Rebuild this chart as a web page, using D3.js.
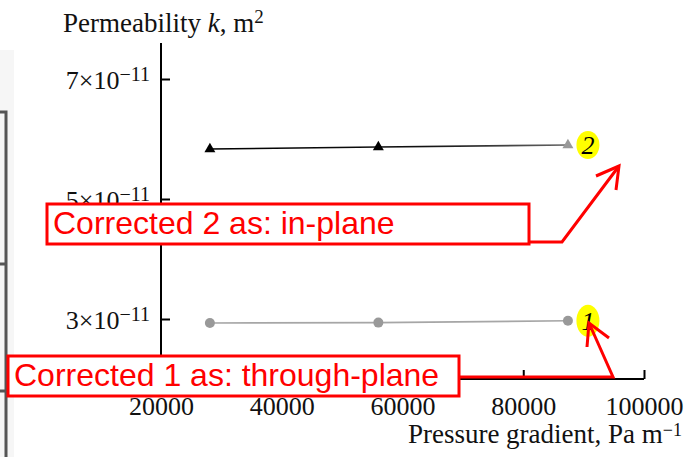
<!DOCTYPE html>
<html>
<head>
<meta charset="utf-8">
<script src="https://cdn.jsdelivr.net/npm/d3@7"></script>
<style>
  html, body { margin: 0; padding: 0; background: #fff; }
  svg { display: block; }
  .serif { font-family: "Liberation Serif", "Times New Roman", serif; }
  .note { font-family: "Liberation Sans", Arial, sans-serif; }
</style>
</head>
<body>
<svg id="chart" width="699" height="457"></svg>
<script>
// Measured permeability vs. applied pressure gradient
const pressureGradient = [28100, 56000, 87400];          // Pa m^-1
const throughPlane = [2.933e-11, 2.94e-11, 2.97e-11];    // curve 1, m^2
const inPlane = [5.833e-11, 5.867e-11, 5.9e-11];         // curve 2, m^2

const xTicks = [20000, 40000, 60000, 80000, 100000];
const yTickMantissas = [3, 5, 7];                        // ×10^-11
const yTickExponent = -11;

const svg = d3.select("#chart");

const x = d3.scaleLinear().domain([20000, 100000]).range([161, 644]);
const y = d3.scaleLinear().domain([2e-11, 7.6e-11]).range([379, 43]);

// faint panel edge on the far left
svg.append("rect").attr("x", 0).attr("y", 50).attr("width", 14).attr("height", 407).attr("fill", "#f6f6f6");
svg.append("path").attr("d", "M0,112H6V457").attr("fill", "none").attr("stroke", "#555").attr("stroke-width", 3);
svg.append("path").attr("d", "M0,264H5M0,391H5").attr("stroke", "#555").attr("stroke-width", 3);

// axes
const xAxis = d3.axisBottom(x).tickValues(xTicks).tickSize(-9).tickFormat(d3.format("d"));
const yAxis = d3.axisLeft(y).tickValues(yTickMantissas.map(m => m * 1e-11)).tickSize(-9).tickFormat("");

const gx = svg.append("g").attr("transform", `translate(0,${y.range()[0]})`).call(xAxis);
gx.select(".domain").attr("d", `M${x.range()[0]},0H${x.range()[1]}`).attr("stroke", "#000").attr("stroke-width", 2);
gx.selectAll(".tick line").attr("stroke", "#000").attr("stroke-width", 2);
gx.selectAll(".tick text")
  .attr("class", "serif").attr("font-size", 26).attr("fill", "#111")
  .attr("y", 18).attr("dy", "0.71em");

const gy = svg.append("g").attr("transform", `translate(${x.range()[0]},0)`).call(yAxis);
gy.select(".domain").attr("d", `M0,${y.range()[0]}V${y.range()[1]}`).attr("stroke", "#000").attr("stroke-width", 2);
gy.selectAll(".tick line").attr("stroke", "#000").attr("stroke-width", 2);
gy.selectAll(".tick text").remove();

// y tick labels as a×10^n
gy.selectAll(".tick").each(function(d, i) {
  const t = d3.select(this).append("text")
    .attr("class", "serif").attr("font-size", 26).attr("fill", "#111")
    .attr("x", -11).attr("y", 9).attr("text-anchor", "end");
  t.append("tspan").text(`${yTickMantissas[i]}×10`);
  t.append("tspan").attr("font-size", 20).attr("dy", -8).text(`−${Math.abs(yTickExponent)}`);
});

// axis titles
const yTitle = svg.append("text").attr("class", "serif").attr("font-size", 27).attr("fill", "#111")
  .attr("x", 63).attr("y", 32);
yTitle.append("tspan").text("Permeability ");
yTitle.append("tspan").attr("font-style", "italic").text("k");
yTitle.append("tspan").text(", m");
yTitle.append("tspan").attr("font-size", 19).attr("dy", -9).text("2");

const xTitle = svg.append("text").attr("class", "serif").attr("font-size", 27).attr("fill", "#111")
  .attr("x", 682).attr("y", 443).attr("text-anchor", "end");
xTitle.append("tspan").text("Pressure gradient, Pa m");
xTitle.append("tspan").attr("font-size", 18).attr("dy", -7).text("−1");

// curves
const line = d3.line().x(d => x(d[0])).y(d => y(d[1]));
const s1 = pressureGradient.map((p, i) => [p, throughPlane[i]]);
const s2 = pressureGradient.map((p, i) => [p, inPlane[i]]);

// curve 2 fades from black to grey towards its last point
const grad = svg.append("defs").append("linearGradient").attr("id", "fade2")
  .attr("gradientUnits", "userSpaceOnUse")
  .attr("x1", x(pressureGradient[0])).attr("x2", x(pressureGradient[2])).attr("y1", 0).attr("y2", 0);
grad.append("stop").attr("offset", "0%").attr("stop-color", "#000");
grad.append("stop").attr("offset", "60%").attr("stop-color", "#111");
grad.append("stop").attr("offset", "100%").attr("stop-color", "#666");

svg.append("path").datum(s1).attr("d", line).attr("fill", "none").attr("stroke", "#a6a6a6").attr("stroke-width", 1.6);
svg.append("path").datum(s2).attr("d", line).attr("fill", "none").attr("stroke", "url(#fade2)").attr("stroke-width", 1.6);

svg.selectAll(".pt1").data(s1).join("circle")
  .attr("cx", d => x(d[0])).attr("cy", d => y(d[1])).attr("r", 5).attr("fill", "#999");

const tri = d3.symbol().type(d3.symbolTriangle).size(52);
svg.selectAll(".pt2").data(s2).join("path")
  .attr("d", tri).attr("transform", d => `translate(${x(d[0])},${y(d[1])})`)
  .attr("fill", (d, i) => i === s2.length - 1 ? "#999" : "#000");

// curve numbers on yellow highlight
const curveLabels = [
  { name: "1", value: throughPlane[throughPlane.length - 1], ry: 16 },
  { name: "2", value: inPlane[inPlane.length - 1], ry: 14 }
];
curveLabels.forEach(c => {
  const cx = x(pressureGradient[pressureGradient.length - 1]) + 20;
  const cy = y(c.value);
  svg.append("ellipse").attr("cx", cx).attr("cy", cy).attr("rx", 11.5).attr("ry", c.ry).attr("fill", "#ffff00");
  svg.append("text").attr("class", "serif").attr("font-size", 26).attr("font-style", "italic")
    .attr("x", cx).attr("y", cy + 9).attr("text-anchor", "middle").attr("fill", "#000").text(c.name);
});

// correction notes
const notes = [
  { text: "Corrected 2 as: in-plane", box: [47, 204, 482, 40],
    arrow: "M528,242H562L619,166", head: "M596,176L619,166L616,190" },
  { text: "Corrected 1 as: through-plane", box: [8, 356, 451, 40],
    arrow: "M459,377H613L589,323", head: "M587,347L589,323L609,338" }
];
notes.forEach(n => {
  const [bx, by, bw, bh] = n.box;
  svg.append("rect").attr("x", bx).attr("y", by).attr("width", bw).attr("height", bh)
    .attr("fill", "#fff").attr("stroke", "#ff0000").attr("stroke-width", 3);
  svg.append("text").attr("class", "note").attr("font-size", 32).attr("fill", "#ff0000")
    .attr("x", bx + 6).attr("y", by + 30).text(n.text);
  svg.append("path").attr("d", n.arrow).attr("fill", "none").attr("stroke", "#ff0000").attr("stroke-width", 3);
  svg.append("path").attr("d", n.head).attr("fill", "none").attr("stroke", "#ff0000").attr("stroke-width", 3);
});
</script>
</body>
</html>
